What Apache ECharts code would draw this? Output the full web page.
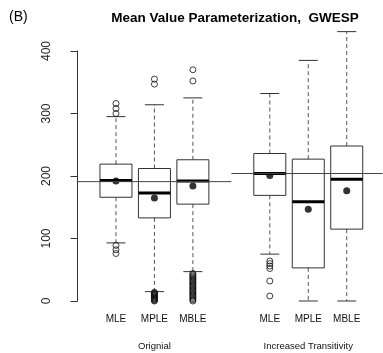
<!DOCTYPE html>
<html>
<head>
<meta charset="utf-8">
<script src="https://cdn.jsdelivr.net/npm/echarts@6/dist/echarts.min.js"></script>
<style>
  html, body { margin: 0; padding: 0; background: #fff; }
  #chart { width: 383px; height: 353px; }
</style>
</head>
<body>
<div id="chart"></div>
<script>
// x positions of the boxes (gap at 4 between the two groups)
var positions = [1, 2, 3, 5, 6, 7];
var tickLabels = ['', 'MLE', 'MPLE', 'MBLE', '', 'MLE', 'MPLE', 'MBLE'];
var groupLabels = ['', '', 'Orignial', '', '', '', 'Increased Transitivity', ''];

// lower whisker, Q1, median, Q3, upper whisker
var boxStats = [
	[93, 166, 193, 219, 295],
	[15, 133, 173, 212, 314],
	[47, 155, 192, 226, 325],
	[75, 169, 204, 236, 332],
	[0, 53, 159, 227, 385],
	[0, 115, 195, 248, 431]
];
var means = [192, 165, 184, 201, 147, 176.5];

var outliers = [
	[316, 308, 300, 89, 82, 76],
	[355, 347, 14, 13, 12, 11, 10, 9, 8, 7, 6, 5, 4, 3, 2, 1, 0],
	[370, 352, 44, 42, 40, 38, 36, 34, 32, 30, 28, 26, 24, 22, 20, 18, 16, 14, 12, 10, 8, 6, 4, 2, 0],
	[64, 60, 56, 52, 32, 8],
	[],
	[]
];

// true parameter lines: [from x, to x, value]
var refLines = [
	[0, 4, 191],
	[4, 7.93, 204]
];

var boxData = positions.map(function(p, i) {
	return [p].concat(boxStats[i]);
});
var meanData = positions.map(function(p, i) {
	return [p, means[i]];
});
var outlierData = [];
positions.forEach(function(p, i) {
	outliers[i].forEach(function(v) {
		outlierData.push([p, v]);
	});
});

function renderBox(params, api) {
	var x = api.value(0);
	var lo = api.coord([x, api.value(1)]);
	var q1 = api.coord([x, api.value(2)]);
	var md = api.coord([x, api.value(3)]);
	var q3 = api.coord([x, api.value(4)]);
	var hi = api.coord([x, api.value(5)]);
	var cx = lo[0];
	var half = 16;
	var cap = 9.5;
	var whisker = { stroke: '#555', lineWidth: 1, lineDash: [4, 3] };
	var solid = { stroke: '#333', lineWidth: 1 };
	return {
		type: 'group',
		children: [{
			type: 'line',
			shape: { x1: cx, y1: q3[1], x2: cx, y2: hi[1] },
			style: whisker
		}, {
			type: 'line',
			shape: { x1: cx, y1: q1[1], x2: cx, y2: lo[1] },
			style: whisker
		}, {
			type: 'line',
			shape: { x1: cx - cap, y1: hi[1], x2: cx + cap, y2: hi[1] },
			style: solid
		}, {
			type: 'line',
			shape: { x1: cx - cap, y1: lo[1], x2: cx + cap, y2: lo[1] },
			style: solid
		}, {
			type: 'rect',
			shape: { x: cx - half, y: q3[1], width: half * 2, height: q1[1] - q3[1] },
			style: { fill: 'none', stroke: '#333', lineWidth: 1 }
		}, {
			type: 'line',
			shape: { x1: cx - half, y1: md[1], x2: cx + half, y2: md[1] },
			style: { stroke: '#000', lineWidth: 3 }
		}]
	};
}

var series = [{
	type: 'custom',
	renderItem: renderBox,
	data: boxData,
	encode: { x: 0, y: [1, 2, 3, 4, 5] },
	z: 2
}, {
	type: 'scatter',
	data: outlierData,
	symbol: 'circle',
	symbolSize: 6,
	clip: false,
	itemStyle: { color: 'none', borderColor: '#111', borderWidth: 1 },
	z: 3
}, {
	type: 'scatter',
	data: meanData,
	symbol: 'circle',
	symbolSize: 7,
	clip: false,
	itemStyle: { color: '#000' },
	z: 4
}];

refLines.forEach(function(r) {
	series.push({
		type: 'line',
		data: [[r[0], r[2]], [r[1], r[2]]],
		showSymbol: false,
		silent: true,
		lineStyle: { color: '#444', width: 1 },
		z: 5
	});
});

var chart = echarts.init(document.getElementById('chart'), null, { renderer: 'canvas' });
chart.setOption({
	animation: false,
	backgroundColor: '#fff',
	textStyle: { fontFamily: 'Liberation Sans, Arial, sans-serif' },
	title: [{
		text: '(B)',
		left: 4,
		top: 5,
		textStyle: { fontSize: 14, fontWeight: 'normal', color: '#000' }
	}, {
		text: 'Mean Value Parameterization,  GWESP',
		left: 230,
		textAlign: 'center',
		top: 6,
		textStyle: { fontSize: 13.5, fontWeight: 'bold', color: '#000' }
	}],
	grid: {
		left: 77.5,
		top: 51,
		width: 305,
		height: 250,
		containLabel: false
	},
	xAxis: [{
		type: 'value',
		min: 0,
		max: 7.93,
		interval: 1,
		position: 'bottom',
		axisLine: { show: false },
		axisTick: { show: false },
		splitLine: { show: false },
		axisLabel: {
			margin: 13,
			fontSize: 10,
			color: '#111',
			showMaxLabel: false,
			formatter: function(v) {
				return tickLabels[v] || '';
			}
		}
	}, {
		type: 'value',
		min: 0,
		max: 7.93,
		interval: 1,
		position: 'bottom',
		offset: 0,
		axisLine: { show: false },
		axisTick: { show: false },
		splitLine: { show: false },
		axisLabel: {
			margin: 40,
			fontSize: 9.5,
			color: '#111',
			showMaxLabel: false,
			formatter: function(v) {
				return groupLabels[v] || '';
			}
		}
	}],
	yAxis: {
		type: 'value',
		min: 0,
		max: 400,
		interval: 100,
		offset: 12.5,
		axisLine: { show: true, lineStyle: { color: '#333', width: 1 } },
		axisTick: { show: true, length: 7, lineStyle: { color: '#333' } },
		splitLine: { show: false },
		axisLabel: {
			rotate: 90,
			margin: 12,
			fontSize: 12,
			color: '#222'
		}
	},
	series: series
});
</script>
</body>
</html>
